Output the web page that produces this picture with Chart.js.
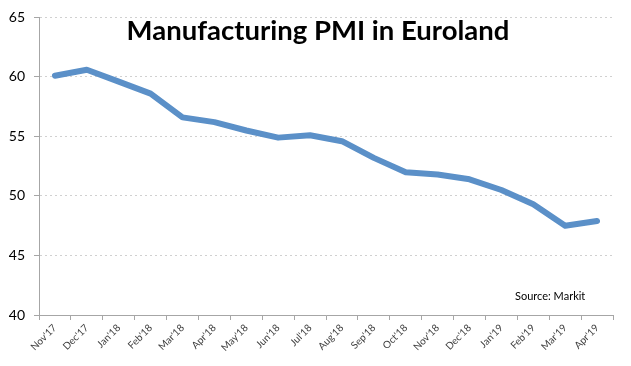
<!DOCTYPE html>
<html>
<head>
<meta charset="utf-8">
<script src="https://cdn.jsdelivr.net/npm/chart.js@4"></script>
<style>
  html, body { margin: 0; padding: 0; background: #fff; }
  #wrap { width: 631px; height: 366px; position: relative; }
</style>
</head>
<body>
<div id="wrap"><canvas id="myChart"></canvas></div>
<script>
// months on the x axis
var months = ["Nov'17", "Dec'17", "Jan'18", "Feb'18", "Mar'18", "Apr'18", "May'18", "Jun'18", "Jul'18",
              "Aug'18", "Sep'18", "Oct'18", "Nov'18", "Dec'18", "Jan'19", "Feb'19", "Mar'19", "Apr'19"];
// PMI values
var pmi = [60.1, 60.6, 59.6, 58.6, 56.6, 56.2, 55.5, 54.9, 55.1, 54.6, 53.2, 52.0, 51.8, 51.4, 50.5, 49.3, 47.5, 47.9];

var chartTitle = "Manufacturing PMI in Euroland";
var sourceNote = "Source: Markit";

// draws the title and the source note inside the plot, like the excel original
const textPlugin = {
    id: 'overlayText',
    afterDraw(chart) {
        const ctx = chart.ctx;
        ctx.save();
        ctx.fillStyle = '#000';
        ctx.font = 'bold 27.5px Lato';
        ctx.textAlign = 'center';
        ctx.textBaseline = 'alphabetic';
        ctx.fillText(chartTitle, 318, 40);
        ctx.font = '11px Lato';
        ctx.textAlign = 'left';
        ctx.fillText(sourceNote, 515, 300);
        ctx.restore();
    }
};

var data = {
    labels: months,
    datasets: [{
        label: 'PMI',
        data: pmi,
        borderColor: '#5b90c8',
        borderWidth: 6,
        pointRadius: 0,
        borderJoinStyle: 'round',
        borderCapStyle: 'round',
        tension: 0,
        fill: false
    }]
};

const config = {
    type: 'line',
    data: data,
    options: {
        animation: false,
        responsive: true,
        maintainAspectRatio: false,
        layout: {
            padding: { top: 15, right: 18, left: 0, bottom: 0 }
        },
        plugins: {
            legend: { display: false },
            title: { display: false },
            tooltip: { enabled: false }
        },
        scales: {
            x: {
                offset: true,
                grid: {
                    offset: true,
                    drawOnChartArea: false,
                    color: '#a6a6a6',
                    tickLength: 5
                },
                border: { color: '#a6a6a6', width: 1 },
                ticks: {
                    autoSkip: false,
                    maxRotation: 45,
                    minRotation: 45,
                    padding: 2,
                    color: '#404040',
                    font: { family: 'Lato', size: 10 }
                },
                afterFit(scale) { scale.height = 51; }
            },
            y: {
                min: 40,
                max: 65,
                ticks: {
                    stepSize: 5,
                    padding: 9,
                    color: '#000',
                    font: { family: 'Lato', size: 14 }
                },
                grid: {
                    color: '#d0d0d0',
                    lineWidth: 1,
                    tickLength: 5,
                    tickColor: '#a6a6a6'
                },
                // dash here dots the horizontal grid lines
                border: { color: '#a6a6a6', width: 1, dash: [2, 3] },
                afterFit(scale) { scale.width = 39; }
            }
        }
    },
    plugins: [textPlugin]
};

const myChart = new Chart(document.getElementById('myChart'), config);
</script>
</body>
</html>
